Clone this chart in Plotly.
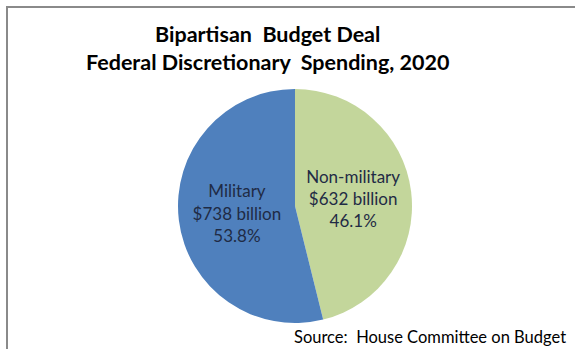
import plotly.graph_objects as go

# Federal discretionary spending split, FY2020 (billions of dollars)
categories = ["Non-military", "Military"]
spending_billion = [632, 738]
share_labels = ["46.1%", "53.8%"]
slice_colors = ["#c3d69b", "#4f80bd"]

W, H = 575, 349
FONT = "Lato, 'Open Sans', sans-serif"
INK = "#1f2b45"

fig = go.Figure(
    go.Pie(
        labels=categories,
        values=spending_billion,
        customdata=share_labels,
        sort=False,
        direction="clockwise",
        rotation=0,
        marker=dict(colors=slice_colors, line=dict(width=0)),
        texttemplate="%{label}<br>$%{value} billion<br>%{customdata}",
        textposition="inside",
        insidetextorientation="horizontal",
        textfont=dict(family=FONT, size=17, color=INK),
        hoverinfo="label+value+percent",
        showlegend=False,
        domain=dict(x=[178 / W, 412 / W], y=[(H - 323) / H, (H - 89) / H]),
    )
)

fig.update_layout(
    width=W,
    height=H,
    margin=dict(l=0, r=0, t=0, b=0),
    paper_bgcolor="white",
    plot_bgcolor="white",
    font=dict(family=FONT, color="#000000"),
    annotations=[
        dict(
            text="<b>Bipartisan\u00a0 Budget Deal</b><br><b>Federal Discretionary\u00a0 Spending, 2020</b>",
            x=267 / W, y=1 - 19 / H, xref="paper", yref="paper",
            xanchor="center", yanchor="top", showarrow=False,
            font=dict(family=FONT, size=21.5, color="#000000"),
            align="center",
        ),
        dict(
            text="Source:\u00a0 House Committee on Budget",
            x=568 / W, y=0, xref="paper", yref="paper",
            xanchor="right", yanchor="bottom", showarrow=False,
            font=dict(family=FONT, size=16.5, color="#000000"),
        ),
    ],
    shapes=[
        dict(
            type="rect", xref="paper", yref="paper",
            x0=7 / W, x1=1.5, y0=-0.5, y1=1 - 7 / H,
            line=dict(color="#8a8a8a", width=2),
            fillcolor="rgba(0,0,0,0)",
            layer="below",
        )
    ],
)

fig.write_html("out.html")
